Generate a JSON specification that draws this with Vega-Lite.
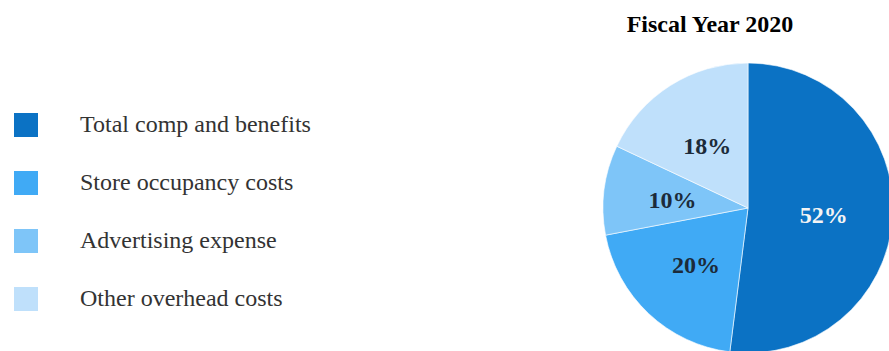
{
  "$schema": "https://vega.github.io/schema/vega-lite/v6.json",
  "autosize": {"type": "none"},
  "padding": {"left": 603, "top": 63, "right": 0, "bottom": 0},
  "width": 290,
  "height": 290,
  "background": "#ffffff",
  "title": {
    "text": "Fiscal Year 2020",
    "font": "Liberation Serif",
    "fontSize": 24,
    "fontWeight": "bold",
    "color": "#000000",
    "anchor": "middle",
    "dx": -38,
    "offset": 25
  },
  "data": {
    "values": [
      {"category": "Total comp and benefits", "share": 52, "rank": 1, "label": "52%"},
      {"category": "Store occupancy costs", "share": 20, "rank": 2, "label": "20%"},
      {"category": "Advertising expense", "share": 10, "rank": 3, "label": "10%"},
      {"category": "Other overhead costs", "share": 18, "rank": 4, "label": "18%"}
    ]
  },
  "encoding": {
    "theta": {"field": "share", "type": "quantitative", "stack": true},
    "order": {"field": "rank", "type": "quantitative", "sort": "ascending"}
  },
  "layer": [
    {
      "mark": {"type": "arc", "stroke": "#ffffff", "strokeWidth": 0.6},
      "encoding": {
        "color": {
          "field": "category",
          "type": "nominal",
          "scale": {
            "domain": ["Total comp and benefits", "Store occupancy costs", "Advertising expense", "Other overhead costs"],
            "range": ["#0b72c4", "#40aaf5", "#7ec5f8", "#bfe0fb"]
          },
          "legend": {
            "title": null,
            "orient": "none",
            "legendX": -589,
            "legendY": 50,
            "direction": "vertical",
            "padding": 0,
            "symbolType": "square",
            "symbolSize": 576,
            "symbolStrokeWidth": 0,
            "symbolOpacity": 1,
            "labelFont": "Liberation Serif",
            "labelFontSize": 24,
            "labelColor": "#333333",
            "labelOffset": 42,
            "labelLimit": 400,
            "rowPadding": 34
          }
        }
      }
    },
    {
      "mark": {"type": "text", "radius": 76, "dy": 3, "font": "Liberation Serif", "fontSize": 24, "fontWeight": "bold"},
      "encoding": {
        "text": {"field": "label", "type": "nominal"},
        "color": {
          "condition": {"test": "datum.rank === 1", "value": "#f4f4f4"},
          "value": "#1c2b3a"
        }
      }
    }
  ],
  "config": {"view": {"stroke": null}}
}
